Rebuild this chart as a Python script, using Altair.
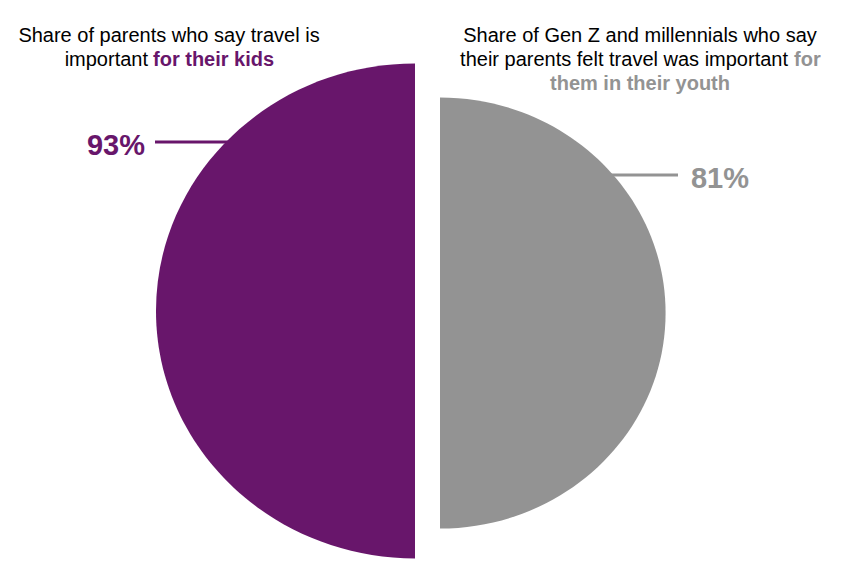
import altair as alt
import pandas as pd

# Data
groups = ["parents", "genz"]
values = [93, 81]
labels = ["93%", "81%"]
colors = ["#68166B", "#939393"]

df = pd.DataFrame({"group": groups, "value": values, "label": labels})

FONT = "Liberation Sans"
W, H = 829, 563

base = alt.Chart(df)

# half-pie size driven by value (radius proportional to value)
size_scale = alt.Scale(type="pow", exponent=2, domain=[0, 100], range=[0, 283024])

LEFT_HALF = "M0,-1 A1.047,1 0 0,0 0,1 Z"
RIGHT_HALF = "M0,-1 A1.047,1 0 0,1 0,1 Z"


def half(group, color, cx, cy, shape):
    return base.transform_filter(alt.datum.group == group).mark_point(
        shape=shape, filled=True, color=color, opacity=1, strokeWidth=0
    ).encode(
        x=alt.value(cx),
        y=alt.value(cy),
        size=alt.Size("value:Q", scale=size_scale, legend=None),
    )


left_half = half("parents", colors[0], 407, 303, LEFT_HALF)
right_half = half("genz", colors[1], 432, 305, RIGHT_HALF)


def rule(group, color, x1, x2, y):
    return base.transform_filter(alt.datum.group == group).mark_rule(
        color=color, strokeWidth=3
    ).encode(x=alt.value(x1), x2=alt.value(x2), y=alt.value(y))


left_rule = rule("parents", colors[0], 147, 222, 134)
right_rule = rule("genz", colors[1], 590, 670, 167)


def pct(group, color, x, y):
    return base.transform_filter(alt.datum.group == group).mark_text(
        color=color, font=FONT, fontSize=29, fontWeight="bold",
        align="center", baseline="alphabetic"
    ).encode(x=alt.value(x), y=alt.value(y), text="label:N")


left_pct = pct("parents", colors[0], 108, 147)
right_pct = pct("genz", colors[1], 712, 180)


def txt(s, x, y, align="center", color="#000000", bold=False):
    return alt.Chart(pd.DataFrame({"t": [s]})).mark_text(
        color=color, font=FONT, fontSize=20,
        fontWeight="bold" if bold else "normal",
        align=align, baseline="alphabetic"
    ).encode(x=alt.value(x), y=alt.value(y), text="t:N")


titles = [
    txt("Share of parents who say travel is", 161, 34),
    txt("important", 140, 58, align="right"),
    txt("for their kids", 145, 58, align="left", color=colors[0], bold=True),
    txt("Share of Gen Z and millennials who say", 632, 34),
    txt("their parents felt travel was important", 780, 58, align="right"),
    txt("for", 786, 58, align="left", color=colors[1], bold=True),
    txt("them in their youth", 632, 82, color=colors[1], bold=True),
]

chart = alt.layer(
    left_rule, right_rule, left_half, right_half, left_pct, right_pct, *titles
).properties(
    width=W, height=H, padding=0,
    autosize=alt.AutoSizeParams(type="none"),
).configure_view(stroke=None)

chart.save("out.html", embed_options={"renderer": "svg", "actions": False})
